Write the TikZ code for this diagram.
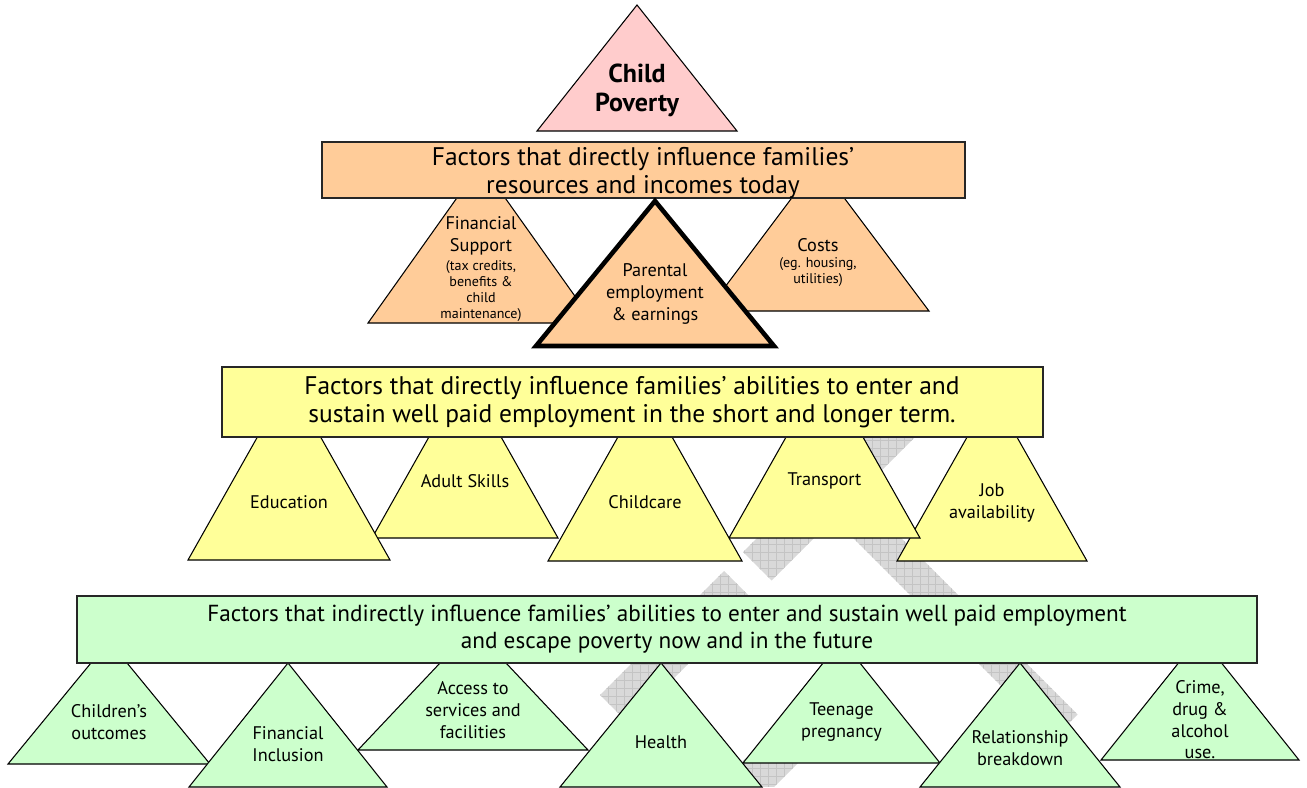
\documentclass[tikz,border=0pt]{standalone}
\usepackage{fontspec}
\setmainfont{PT Sans}
\definecolor{rose}{HTML}{FFCCCC}
\definecolor{peach}{HTML}{FFCC99}
\definecolor{lemon}{HTML}{FFFF99}
\definecolor{mint}{HTML}{CCFFCC}
\definecolor{hatch}{HTML}{D9D9D9}
\definecolor{hatchline}{HTML}{C4C4C4}

\begin{document}
\begin{tikzpicture}[x=0.02cm,y=-0.02cm,
  tri/.style={draw=black,line width=0.6pt},
  bar/.style={draw=black!85,line width=0.9pt},
  lbl/.style={align=center,inner sep=0pt,font=\fontsize{10.4}{12.3}\selectfont},
  note/.style={align=center,inner sep=0pt,font=\fontsize{8}{9}\selectfont},
  head/.style={align=center,inner sep=0pt,font=\fontsize{13.2}{15.4}\selectfont},
  bighead/.style={head,font=\fontsize{14.5}{16.2}\selectfont}]
\useasboundingbox (0,0) rectangle (1307,787);

% hatched mark behind the pyramid
\begin{scope}
\clip (743,552) -- (771.5,580.5) -- (936,416) -- (907.5,387.5) -- cycle
      (724,571) -- (600,695) -- (628.5,723.5) -- (752.5,599.5) -- cycle
      (782.5,467.5) -- (1053.5,738.5) -- (1077.5,714.5) -- (806.5,443.5) -- cycle
      (847,657) -- (702,802) -- (730.5,830.5) -- (875.5,685.5) -- cycle;
\fill[hatch] (0,0) rectangle (1307,787);
\draw[hatchline,line width=0.4pt,step=0.16cm] (0,0) grid (1307,787);
\end{scope}

% top
\filldraw[tri,fill=rose] (537,131) -- (637,5) -- (737,131) -- cycle;
\node[align=center,inner sep=0pt,font=\fontsize{14.8}{16.5}\selectfont\bfseries] (poverty) at (637,90) {Child\\Poverty};

% resources and incomes
\foreach \nm/\cx/\by/\hw/\ay/\ty/\txt in {
  finsup/481/323/113/164/236/{Financial\\Support},
  costs/818/311/111/163/245/{Costs}}{
  \filldraw[tri,fill=peach] (\cx-\hw,\by) -- (\cx,\ay) -- (\cx+\hw,\by) -- cycle;
  \node[lbl] (\nm) at (\cx,\ty) {\txt};}
\node[note] (finsupnote) at (481,291) {(tax credits,\\benefits \&\\child\\maintenance)};
\node[note] (costsnote) at (818,272) {(eg. housing,\\utilities)};
\filldraw[bar,fill=peach] (322,142) rectangle (965,198);
\node[bighead] (incomes) at (643,173) {Factors that directly influence families’\\resources and incomes today};
\filldraw[draw=black,line width=2.6pt,line join=miter,fill=peach] (536,346) -- (655,201) -- (774,346) -- cycle;
\node[lbl] (parental) at (655,294) {Parental\\employment\\\& earnings};

% employment
\foreach \nm/\cx/\by/\hw/\ay/\ty/\txt in {
  job/992/561/95/393/503/{Job\\availability},
  adultskills/465/538/93/373/481/{Adult Skills},
  transport/824.5/538/95.5/369/481/{Transport},
  education/289/560/101/381/502/{Education},
  childcare/645/561/97/389/502/{Childcare}}{
  \filldraw[tri,fill=lemon] (\cx-\hw,\by) -- (\cx,\ay) -- (\cx+\hw,\by) -- cycle;
  \node[lbl] (\nm) at (\cx,\ty) {\txt};}
\filldraw[bar,fill=lemon] (222,367) rectangle (1043,437);
\node[bighead] (employment) at (632,402) {Factors that directly influence families’ abilities to enter and\\sustain well paid employment in the short and longer term.};

% indirect factors
\foreach \nm/\cx/\by/\hw/\ay/\ty/\txt in {
  outcomes/109/764/101/641/722/{Children’s\\outcomes},
  access/473/750/115/628/710/{Access to\\services and\\facilities},
  teenage/841.5/763/98.5/640/722/{Teenage\\pregnancy},
  crime/1200/760/99/636/720/{Crime,\\drug \&\\alcohol\\use.},
  inclusion/288/787/99/663/744/{Financial\\Inclusion},
  health/661/787/101/663/742/{Health},
  relationship/1020/787/100/663/748/{Relationship\\breakdown}}{
  \filldraw[tri,fill=mint] (\cx-\hw,\by) -- (\cx,\ay) -- (\cx+\hw,\by) -- cycle;
  \node[lbl] (\nm) at (\cx,\ty) {\txt};}
\filldraw[bar,fill=mint] (77,596) rectangle (1257,663);
\node[head] (indirect) at (667,629) {Factors that indirectly influence families’ abilities to enter and sustain well paid employment\\and escape poverty now and in the future};
\end{tikzpicture}
\end{document}
